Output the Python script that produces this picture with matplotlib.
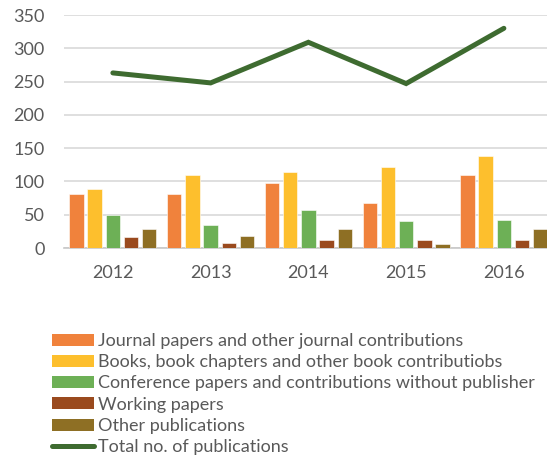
import numpy as np
import matplotlib
matplotlib.use('Agg')
import matplotlib.pyplot as plt
from matplotlib.patches import Patch
from matplotlib.lines import Line2D

plt.rcParams['font.family'] = ['Lato', 'DejaVu Sans']

# publication counts per year
years = ['2012', '2013', '2014', '2015', '2016']
journal = [81, 81, 98, 67, 110]
books = [89, 110, 114, 122, 138]
conference = [49, 34, 57, 40, 42]
working = [16, 8, 12, 12, 12]
other = [28, 18, 28, 6, 28]
total = [263, 248, 309, 247, 330]

series = [
    ('Journal papers and other journal contributions', journal, '#F0823C'),
    ('Books, book chapters and other book contributiobs', books, '#FDBF2D'),
    ('Conference papers and contributions without publisher', conference, '#6DB056'),
    ('Working papers', working, '#9A4A1E'),
    ('Other publications', other, '#8E6F24'),
]
line_color = '#3E6B30'
text_color = '#595959'

fig = plt.figure(figsize=(5.47, 4.58), dpi=100)
# plot area runs slightly past the right edge, like the cropped original
ax = fig.add_axes([64 / 547, 1 - 248 / 458, (552.75 - 64) / 547, (248 - 15) / 458])

x = np.arange(len(years))
step = 0.186
width = 0.148
for i, (name, vals, col) in enumerate(series):
    ax.bar(x + (i - 2) * step, vals, width=width, color=col,
           edgecolor='#FFFFFF', linewidth=0.4, zorder=3)

ax.plot(x, total, color=line_color, linewidth=3.6, solid_capstyle='round',
        solid_joinstyle='miter', zorder=4)

ax.set_xlim(-0.5, len(years) - 0.5)
ax.set_ylim(0, 350)
ax.set_yticks(range(0, 351, 50))
ax.set_xticks(x)
ax.set_xticklabels(years)
ax.grid(axis='y', color='#D9D9D9', linewidth=1.2, zorder=0)
ax.set_axisbelow(True)
for s in ['top', 'right', 'left']:
    ax.spines[s].set_visible(False)
ax.spines['bottom'].set_color('#C8C8C8')
ax.spines['bottom'].set_linewidth(1.2)
ax.spines['bottom'].set_zorder(2)
ax.tick_params(axis='both', length=0, labelsize=13, colors=text_color)
ax.tick_params(axis='x', pad=12)
ax.tick_params(axis='y', pad=14)

handles = [Patch(facecolor=c, edgecolor='none') for _, _, c in series]
handles.append(Line2D([0], [0], color=line_color, linewidth=3.6, solid_capstyle='round'))
labels = [n for n, _, _ in series] + ['Total no. of publications']
leg = fig.legend(handles, labels, loc='upper left', bbox_to_anchor=(52 / 547, 1 - 333 / 458),
                 frameon=False, fontsize=13, handlelength=2.3, handleheight=0.65,
                 handletextpad=0.22, labelspacing=0.29, borderpad=0, borderaxespad=0)
for t in leg.get_texts():
    t.set_color(text_color)

fig.savefig('out.png', dpi=100)
